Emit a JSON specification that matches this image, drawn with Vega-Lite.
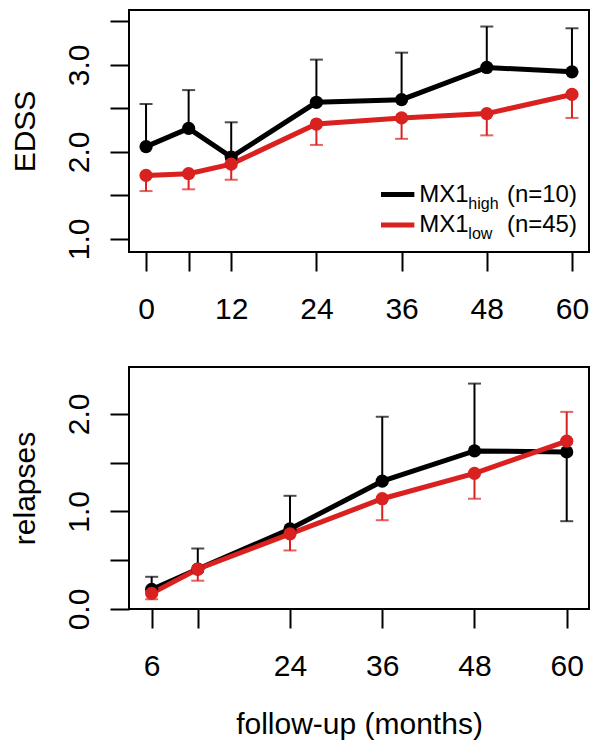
{
  "$schema": "https://vega.github.io/schema/vega-lite/v6.json",
  "background": "white",
  "padding": {"left": 9, "top": 9, "right": 5, "bottom": 5},
  "config": {
    "font": "Liberation Sans",
    "view": {"stroke": "black", "strokeWidth": 2},
    "axis": {
      "grid": false, "domain": false, "tickColor": "black", "tickWidth": 2, "tickSize": 19,
      "labelColor": "black", "labelFont": "Liberation Sans", "labelFontSize": 30,
      "titleFont": "Liberation Sans", "titleFontSize": 30, "titleFontWeight": "normal", "titleColor": "black",
      "labelOverlap": false, "labelFlush": false, "labelBound": false
    }
  },
  "datasets": {
    "edss": [
      {"month": 0, "group": "high", "mean": 2.06, "bar": 2.55},
      {"month": 6, "group": "high", "mean": 2.27, "bar": 2.71},
      {"month": 12, "group": "high", "mean": 1.94, "bar": 2.34},
      {"month": 24, "group": "high", "mean": 2.57, "bar": 3.06},
      {"month": 36, "group": "high", "mean": 2.60, "bar": 3.14},
      {"month": 48, "group": "high", "mean": 2.97, "bar": 3.44},
      {"month": 60, "group": "high", "mean": 2.92, "bar": 3.42},
      {"month": 0, "group": "low", "mean": 1.73, "bar": 1.55},
      {"month": 6, "group": "low", "mean": 1.75, "bar": 1.57},
      {"month": 12, "group": "low", "mean": 1.86, "bar": 1.68},
      {"month": 24, "group": "low", "mean": 2.32, "bar": 2.08},
      {"month": 36, "group": "low", "mean": 2.39, "bar": 2.15},
      {"month": 48, "group": "low", "mean": 2.44, "bar": 2.19},
      {"month": 60, "group": "low", "mean": 2.66, "bar": 2.39}
    ],
    "relapses": [
      {"month": 6, "group": "high", "mean": 0.20, "bar": 0.33},
      {"month": 12, "group": "high", "mean": 0.41, "bar": 0.62},
      {"month": 24, "group": "high", "mean": 0.82, "bar": 1.16},
      {"month": 36, "group": "high", "mean": 1.31, "bar": 1.97},
      {"month": 48, "group": "high", "mean": 1.62, "bar": 2.31},
      {"month": 60, "group": "high", "mean": 1.61, "bar": 0.90},
      {"month": 6, "group": "low", "mean": 0.16, "bar": 0.10},
      {"month": 12, "group": "low", "mean": 0.41, "bar": 0.29},
      {"month": 24, "group": "low", "mean": 0.77, "bar": 0.60},
      {"month": 36, "group": "low", "mean": 1.13, "bar": 0.91},
      {"month": 48, "group": "low", "mean": 1.39, "bar": 1.13},
      {"month": 60, "group": "low", "mean": 1.72, "bar": 2.02}
    ],
    "legend": [
      {"group": "high", "name": "MX1", "sub": "high", "n": "(n=10)"},
      {"group": "low", "name": "MX1", "sub": "low", "n": "(n=45)"}
    ]
  },
  "bounds": "flush",
  "spacing": 115,
  "vconcat": [
    {
      "width": 460,
      "height": 242,
      "layer": [
        {
          "data": {"name": "edss"},
          "mark": {"type": "rule", "strokeWidth": 2},
          "encoding": {
            "x": {"field": "month", "type": "quantitative",
              "scale": {"domain": [-2.4, 62.4], "nice": false, "zero": false},
              "axis": {"values": [0, 6, 12, 24, 36, 48, 60], "format": "d",
                "labelExpr": "datum.value == 6 ? '' : datum.label",
                "title": null, "labelPadding": 23, "labelBaseline": "top", "labelAlign": "center", "labelAngle": 0}},
            "y": {"field": "mean", "type": "quantitative",
              "scale": {"domain": [0.85, 3.63], "nice": false, "zero": false},
              "axis": {"values": [1, 1.5, 2, 2.5, 3, 3.5],
                "labelExpr": "datum.value % 1 == 0 ? format(datum.value, '.1f') : ''",
                "labelAngle": 270, "labelAlign": "center", "labelBaseline": "alphabetic", "labelPadding": 22,
                "title": "EDSS", "titleAngle": 270, "titleX": -95, "titleBaseline": "alphabetic", "titleAlign": "center"}},
            "y2": {"field": "bar"},
            "color": {"field": "group", "type": "nominal",
              "scale": {"domain": ["high", "low"], "range": ["#000000", "#D92120"]}, "legend": null}
          }
        },
        {
          "data": {"name": "edss"},
          "mark": {"type": "tick", "orient": "horizontal", "size": 13, "thickness": 2},
          "encoding": {
            "x": {"field": "month", "type": "quantitative"},
            "y": {"field": "bar", "type": "quantitative", "title": "EDSS"},
            "color": {"field": "group", "type": "nominal"}
          }
        },
        {
          "data": {"name": "edss"},
          "mark": {"type": "line", "strokeWidth": 5},
          "encoding": {
            "x": {"field": "month", "type": "quantitative"},
            "y": {"field": "mean", "type": "quantitative", "title": "EDSS"},
            "color": {"field": "group", "type": "nominal"}
          }
        },
        {
          "data": {"name": "edss"},
          "mark": {"type": "point", "filled": true, "size": 175, "opacity": 1},
          "encoding": {
            "x": {"field": "month", "type": "quantitative"},
            "y": {"field": "mean", "type": "quantitative", "title": "EDSS"},
            "color": {"field": "group", "type": "nominal"}
          }
        },
        {
          "data": {"name": "legend"},
          "transform": [{"filter": "datum.group == 'high'"}],
          "encoding": {"y": {"datum": 1.51, "type": "quantitative"}},
          "layer": [
            {"mark": {"type": "rule", "strokeWidth": 5},
             "encoding": {"x": {"datum": 33.1, "type": "quantitative"}, "x2": {"datum": 37.8},
               "color": {"field": "group", "type": "nominal"}}},
            {"mark": {"type": "text", "align": "left", "baseline": "middle", "fontSize": 24, "color": "black"},
             "encoding": {"x": {"datum": 38.5, "type": "quantitative"}, "text": {"field": "name"}}},
            {"mark": {"type": "text", "align": "left", "baseline": "alphabetic", "fontSize": 16, "dx": 49, "dy": 14, "color": "black"},
             "encoding": {"x": {"datum": 38.5, "type": "quantitative"}, "text": {"field": "sub"}}},
            {"mark": {"type": "text", "align": "right", "baseline": "middle", "fontSize": 24, "color": "black"},
             "encoding": {"x": {"datum": 60.7, "type": "quantitative"}, "text": {"field": "n"}}}
          ]
        },
        {
          "data": {"name": "legend"},
          "transform": [{"filter": "datum.group == 'low'"}],
          "encoding": {"y": {"datum": 1.16, "type": "quantitative"}},
          "layer": [
            {"mark": {"type": "rule", "strokeWidth": 5},
             "encoding": {"x": {"datum": 33.1, "type": "quantitative"}, "x2": {"datum": 37.8},
               "color": {"field": "group", "type": "nominal"}}},
            {"mark": {"type": "text", "align": "left", "baseline": "middle", "fontSize": 24, "color": "black"},
             "encoding": {"x": {"datum": 38.5, "type": "quantitative"}, "text": {"field": "name"}}},
            {"mark": {"type": "text", "align": "left", "baseline": "alphabetic", "fontSize": 16, "dx": 49, "dy": 14, "color": "black"},
             "encoding": {"x": {"datum": 38.5, "type": "quantitative"}, "text": {"field": "sub"}}},
            {"mark": {"type": "text", "align": "right", "baseline": "middle", "fontSize": 24, "color": "black"},
             "encoding": {"x": {"datum": 60.7, "type": "quantitative"}, "text": {"field": "n"}}}
          ]
        }
      ]
    },
    {
      "width": 460,
      "height": 242,
      "data": {"name": "relapses"},
      "layer": [
        {
          "mark": {"type": "rule", "strokeWidth": 2},
          "encoding": {
            "x": {"field": "month", "type": "quantitative",
              "scale": {"domain": [3.05, 62.9], "nice": false, "zero": false},
              "axis": {"values": [6, 12, 24, 36, 48, 60], "format": "d",
                "labelExpr": "datum.value == 12 ? '' : datum.label",
                "title": "follow-up (months)", "titleY": 124, "titleBaseline": "alphabetic",
                "labelPadding": 23, "labelBaseline": "top", "labelAlign": "center", "labelAngle": 0}},
            "y": {"field": "mean", "type": "quantitative",
              "scale": {"domain": [0, 2.48], "nice": false, "zero": false},
              "axis": {"values": [0, 0.5, 1, 1.5, 2],
                "labelExpr": "datum.value % 1 == 0 ? format(datum.value, '.1f') : ''",
                "labelAngle": 270, "labelAlign": "center", "labelBaseline": "alphabetic", "labelPadding": 22,
                "title": "relapses", "titleAngle": 270, "titleX": -95, "titleBaseline": "alphabetic", "titleAlign": "center"}},
            "y2": {"field": "bar"},
            "color": {"field": "group", "type": "nominal",
              "scale": {"domain": ["high", "low"], "range": ["#000000", "#D92120"]}, "legend": null}
          }
        },
        {
          "mark": {"type": "tick", "orient": "horizontal", "size": 13, "thickness": 2},
          "encoding": {
            "x": {"field": "month", "type": "quantitative"},
            "y": {"field": "bar", "type": "quantitative", "title": "relapses"},
            "color": {"field": "group", "type": "nominal"}
          }
        },
        {
          "mark": {"type": "line", "strokeWidth": 5},
          "encoding": {
            "x": {"field": "month", "type": "quantitative"},
            "y": {"field": "mean", "type": "quantitative", "title": "relapses"},
            "color": {"field": "group", "type": "nominal"}
          }
        },
        {
          "mark": {"type": "point", "filled": true, "size": 175, "opacity": 1},
          "encoding": {
            "x": {"field": "month", "type": "quantitative"},
            "y": {"field": "mean", "type": "quantitative", "title": "relapses"},
            "color": {"field": "group", "type": "nominal"}
          }
        }
      ]
    }
  ]
}
